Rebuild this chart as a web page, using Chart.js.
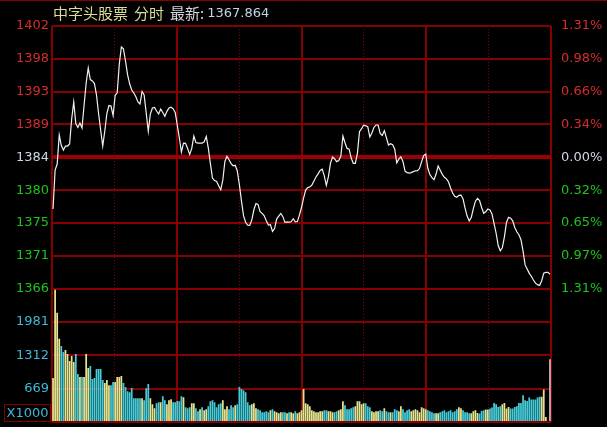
<!DOCTYPE html>
<html><head><meta charset="utf-8">
<script src="https://cdn.jsdelivr.net/npm/chart.js@4.4.1/dist/chart.umd.min.js"></script>
<style>
html,body{margin:0;padding:0;background:#000;overflow:hidden}
#wrap{position:relative;width:607px;height:427px}
canvas{display:block}
</style></head>
<body><div id="wrap"><canvas id="c" width="607" height="427"></canvas></div>
<script>
const stockName = '中字头股票';
const viewName = '分时';
const latestLabel = '最新:';
const volUnitLabel = 'X1000';
const prevClose = 1384.0;
const maxPct = 1.31;
const priceTickLabels = ['1402','1398','1393','1389','1384','1380','1375','1371','1366'];
const pctTickLabels = ['1.31%','0.98%','0.66%','0.34%','0.00%','0.32%','0.65%','0.97%','1.31%'];
const volTickLabels = ['', '1981', '1312', '669', ''];
const volAxisMax = 2640;

const prices = [
1376.86,1382.25,1383.07,1387.08,1385.63,1385.01,1385.56,1385.56,1385.84,1389.29,
1391.64,1388.67,1388.12,1388.74,1388.05,1391.22,1394.26,1396.33,1394.74,1394.54,
1394.19,1392.60,1390.02,1387.77,1385.56,1387.63,1390.05,1391.15,1391.08,1389.77,
1392.56,1392.91,1396.88,1399.23,1398.98,1397.30,1395.41,1394.15,1393.29,1392.88,
1392.36,1391.64,1391.36,1393.10,1392.60,1390.12,1387.63,1389.98,1390.81,1390.89,
1390.39,1389.98,1390.67,1390.19,1389.66,1390.35,1390.81,1390.91,1390.70,1390.19,
1388.46,1386.67,1384.73,1385.97,1385.93,1385.22,1384.41,1385.24,1386.94,1386.04,
1385.97,1385.97,1385.96,1386.14,1386.87,1385.28,1383.13,1381.14,1380.80,1380.66,
1380.09,1379.53,1380.87,1383.43,1384.14,1383.67,1383.13,1382.84,1382.90,1382.11,
1380.22,1377.99,1375.95,1375.04,1374.62,1374.61,1375.37,1376.76,1377.63,1377.51,
1376.49,1376.27,1375.92,1375.24,1374.65,1374.69,1373.78,1374.17,1375.48,1375.88,
1376.25,1375.81,1375.02,1375.08,1375.06,1375.11,1375.52,1375.08,1375.13,1376.03,
1377.07,1378.38,1379.48,1379.82,1379.90,1380.17,1380.74,1381.28,1381.71,1382.19,
1382.37,1381.43,1380.13,1381.33,1383.21,1384.04,1383.77,1383.41,1383.57,1384.18,
1386.94,1386.02,1385.23,1385.12,1383.90,1383.17,1383.17,1384.55,1387.55,1387.95,
1388.43,1388.35,1388.23,1386.80,1387.36,1388.16,1388.46,1388.46,1387.30,1387.02,
1387.66,1386.72,1385.70,1385.89,1385.73,1385.15,1383.24,1383.74,1384.08,1383.43,
1382.08,1381.89,1381.82,1381.89,1382.03,1382.14,1382.15,1382.45,1383.38,1384.25,
1384.46,1382.49,1381.62,1381.20,1380.92,1381.69,1382.80,1382.22,1381.65,1381.24,
1381.03,1380.60,1379.76,1379.07,1378.63,1378.48,1378.75,1378.79,1378.28,1377.00,
1375.89,1375.23,1375.70,1376.92,1377.95,1378.34,1378.03,1377.07,1376.27,1376.49,
1376.87,1376.75,1376.18,1374.84,1373.52,1371.82,1371.10,1371.52,1373.02,1375.00,
1375.71,1375.60,1375.23,1374.32,1373.73,1373.31,1372.63,1371.06,1369.15,1368.57,
1367.98,1367.58,1367.07,1366.63,1366.42,1366.32,1366.97,1368.01,1368.12,1368.12,
1367.864];

const volumes = [
870,2620,2163,1646,1506,1387,1427,1347,1208,1307,
1188,1347,949,890,890,890,1347,1069,1108,850,
870,1049,1049,1049,830,770,830,730,730,790,
790,890,890,909,770,691,611,591,671,472,
472,472,472,472,432,667,750,472,352,273,
372,392,392,511,432,352,432,452,392,392,
418,410,511,492,293,273,293,372,372,273,
213,253,293,233,253,312,412,432,392,293,
352,372,432,253,312,253,332,293,332,352,
691,651,631,591,392,332,352,372,273,253,
233,193,193,213,193,233,253,213,193,173,
193,193,193,173,193,193,173,213,173,193,
233,651,372,352,312,233,213,193,193,213,
213,233,233,213,213,193,193,213,233,253,
412,332,253,253,273,293,312,412,412,352,
372,372,312,293,213,193,213,213,233,213,
273,213,193,193,193,253,233,213,312,253,
193,233,253,213,233,253,233,193,293,273,
253,233,213,193,173,173,173,193,213,233,
193,213,233,193,213,253,293,273,233,193,
193,173,173,213,233,179,167,219,233,247,
247,267,287,378,352,299,312,352,378,267,
299,267,267,299,312,378,378,531,432,418,
486,446,446,446,486,498,498,645,100,0,
1242];

const N = prices.length;
const pMax = prevClose * (1 + maxPct / 100);
const pMin = prevClose * (1 - maxPct / 100);
const xMin = -0.5, xMax = N - 0.5;

const GRID = '#860000';
const BASE_GRID = '#9c0000';
const RED = '#d42c2c', GREEN = '#1ec31e', NEUTRAL = '#cdd6e2', VOLC = '#3cb8d8';
const UP = '#e4e490', DOWN = '#46ccd8', LASTBAR = '#bcbcbc';
const tickFont = {family: "'DejaVu Sans', sans-serif", size: 13};

function evenTicks(scale, n, from, to) {
  const t = [];
  for (let k = 0; k <= n; k++) t.push({value: from + (to - from) * k / n});
  scale.ticks = t;
}
function noPad(width) {
  return s => { s.width = width; s.paddingTop = 0; s.paddingBottom = 0; };
}

const bgPlugin = {
  id: 'bg',
  beforeDraw(chart) {
    const c = chart.ctx;
    c.save();
    c.fillStyle = '#000';
    c.fillRect(0, 0, chart.width, chart.height);
    c.strokeStyle = GRID; c.lineWidth = 1;
    c.beginPath(); c.moveTo(0, 0.5); c.lineTo(chart.width, 0.5); c.stroke();
    c.restore();
  },
  afterDraw(chart) {
    const c = chart.ctx, a = chart.chartArea;
    c.save();
    c.textBaseline = 'middle';
    let x = 53; const y = 13.5;
    c.font = "15px 'Noto Sans CJK SC'";
    c.fillStyle = '#dcdc98';
    c.fillText(stockName, x, y); x += c.measureText(stockName).width + 6;
    c.fillText(viewName, x, y); x += c.measureText(viewName).width + 6;
    c.fillStyle = '#d4d8de';
    c.fillText(latestLabel, x, y); x += c.measureText(latestLabel).width + 3;
    c.font = "13px 'DejaVu Sans'";
    c.fillStyle = '#c4d2e6';
    c.fillText(prices[N - 1].toFixed(3), x, y + 0.5);
    c.strokeStyle = GRID; c.lineWidth = 1;
    c.strokeRect(4.5, a.bottom - 17.5, 46, 17);
    c.fillStyle = VOLC; c.font = "13px 'DejaVu Sans'";
    c.textAlign = 'center';
    c.fillText(volUnitLabel, 27.5, a.bottom - 8.5);
    c.restore();
  }
};

const barColor = ctx => {
  const i = ctx.dataIndex;
  if (i === N - 1) return LASTBAR;
  if (i === 0) return UP;
  return prices[i] >= prices[i - 1] ? UP : DOWN;
};

new Chart(document.getElementById('c').getContext('2d'), {
  data: {
    datasets: [
      {type: 'line', data: prices.map((p, i) => ({x: i, y: p})), xAxisID: 'x', yAxisID: 'yP',
       borderColor: '#f2f2f2', borderWidth: 1.2, pointRadius: 0, tension: 0, order: 0},
      {type: 'bar', data: volumes.map((v, i) => ({x: i, y: v})), xAxisID: 'x', yAxisID: 'yV',
       backgroundColor: barColor, categoryPercentage: 0.85, barPercentage: 1, order: 1}
    ]
  },
  options: {
    responsive: false, animation: false,
    layout: {padding: {top: 26, bottom: 5, left: 0, right: 0}},
    plugins: {legend: {display: false}, tooltip: {enabled: false}},
    scales: {
      x: {type: 'linear', min: xMin, max: xMax, offset: false,
          afterBuildTicks: s => evenTicks(s, 8, xMin, xMax),
          ticks: {display: false},
          grid: {offset: false, color: GRID, lineWidth: c => (c.index % 2 ? 1 : 2), drawTicks: false},
          border: {display: false, dash: c => (c.index % 2 ? [1, 2] : [])},
          afterFit: s => { s.height = 0; }},
      yV: {type: 'linear', position: 'left', stack: 'L', stackWeight: 133, min: 0, max: volAxisMax,
           afterBuildTicks: s => evenTicks(s, 4, 0, volAxisMax),
           ticks: {callback: (v, i) => volTickLabels[4 - i], autoSkip: false, padding: 3, font: tickFont, color: VOLC},
           grid: {color: GRID, lineWidth: 2, drawTicks: false},
           border: {display: false},
           afterFit: noPad(52)},
      yP: {type: 'linear', position: 'left', stack: 'L', stackWeight: 262, min: pMin, max: pMax,
           afterBuildTicks: s => evenTicks(s, 8, pMin, pMax),
           ticks: {callback: (v, i) => priceTickLabels[8 - i], autoSkip: false, padding: 3, font: tickFont,
                   color: c => (c.index > 4 ? RED : c.index === 4 ? NEUTRAL : GREEN)},
           grid: {color: c => (c.index === 4 ? BASE_GRID : GRID), lineWidth: c => (c.index === 4 ? 4 : 2), drawTicks: false},
           border: {display: false},
           afterFit: noPad(52)},
      yPct: {type: 'linear', position: 'right', stack: 'R', stackWeight: 262, min: -maxPct, max: maxPct,
             afterBuildTicks: s => evenTicks(s, 8, -maxPct, maxPct),
             ticks: {callback: (v, i) => pctTickLabels[8 - i], autoSkip: false, padding: 2, font: tickFont,
                     color: c => (c.index > 4 ? RED : c.index === 4 ? NEUTRAL : GREEN)},
             grid: {display: false}, border: {display: false},
             afterFit: noPad(56)},
      yV2: {type: 'linear', position: 'right', stack: 'R', stackWeight: 133, min: 0, max: volAxisMax,
            ticks: {display: false}, grid: {display: false}, border: {display: false},
            afterFit: noPad(56)}
    }
  },
  plugins: [bgPlugin]
});
</script>
</body></html>
